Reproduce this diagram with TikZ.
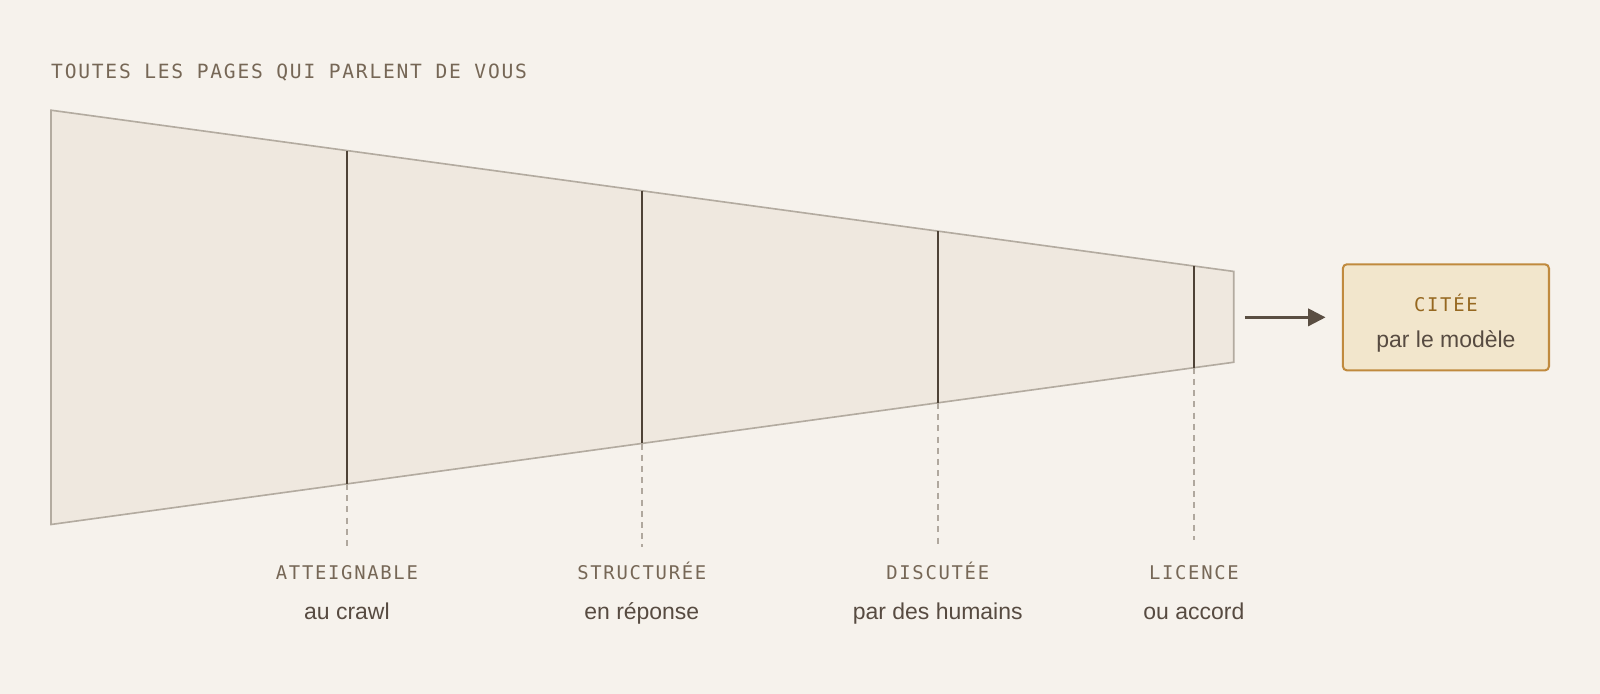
\documentclass[tikz,border=0pt]{standalone}
\usepackage{fontspec}
\setmainfont{Liberation Sans}
\newfontfamily\monof[LetterSpace=9]{DejaVu Sans Mono}
\usetikzlibrary{arrows.meta}
\definecolor{bgc}{HTML}{F6F2EC}
\definecolor{trapfill}{HTML}{EFE8DF}
\definecolor{trapedge}{HTML}{B3ABA0}
\definecolor{stagec}{HTML}{4E4236}
\definecolor{dashc}{HTML}{B0A89E}
\definecolor{monoc}{HTML}{766756}
\definecolor{bodyc}{HTML}{574B41}
\definecolor{boxfill}{HTML}{F2E6CC}
\definecolor{boxedge}{HTML}{C08A3E}
\definecolor{citec}{HTML}{966820}
\definecolor{arrowc}{HTML}{5A4E42}
\tikzset{
  monolabel/.style={inner sep=0pt, anchor=base, text=monoc, font=\monof\fontsize{18.5}{20}\selectfont},
  sublabel/.style={inner sep=0pt, anchor=base, text=bodyc, font=\fontsize{22.5}{26}\selectfont},
  stageline/.style={draw=stagec, line width=2pt},
  guide/.style={draw=dashc, line width=1.6pt, dash pattern=on 6pt off 5pt},
  citebox/.style={draw=boxedge, fill=boxfill, line width=2pt, rounded corners=4pt, minimum width=202pt, minimum height=104pt, inner sep=0pt},
}
\begin{document}
\begin{tikzpicture}[x=1pt,y=-1pt]
\fill[bgc] (0,0) rectangle (1568,680);
\useasboundingbox (0,0) rectangle (1568,680);
% title
\node[monolabel, anchor=base west, font=\monof\fontsize{19.2}{21}\selectfont] (title) at (50,77) {TOUTES LES PAGES QUI PARLENT DE VOUS};
% funnel
\coordinate (tl) at (50,108);
\coordinate (bl) at (50,514);
\coordinate (tr) at (1209,266);
\coordinate (br) at (1209,355);
\draw[fill=trapfill, draw=trapedge, line width=1.6pt] (tl) -- (tr) -- (br) -- (bl) -- cycle;
% stages
\foreach \n/\x/\yt/\yb/\ye in {a/340/147.5/474.2/536, b/629/186.9/434.6/536, c/919/226.5/394.8/537, d/1170/260.7/360.3/529}{
  \coordinate (\n top) at (\x,\yt);
  \coordinate (\n bot) at (\x,\yb);
  \coordinate (\n end) at (\x,\ye);
}
\foreach \n in {a,b,c,d}{
  \draw[guide] (\n bot) -- (\n end);
  \draw[stageline] (\n top) -- (\n bot);
}
% labels
\node[monolabel] (la) at (340,568) {ATTEIGNABLE};
\node[sublabel] (sa) at (340,607) {au crawl};
\node[monolabel] (lb) at (629,568) {STRUCTURÉE};
\node[sublabel] (sb) at (629,607) {en réponse};
\node[monolabel] (lc) at (919,568) {DISCUTÉE};
\node[sublabel] (sc) at (919,607) {par des humains};
\node[monolabel] (ld) at (1170,568) {LICENCE};
\node[sublabel] (sd) at (1170,607) {ou accord};
% output box
\node[citebox] (box) at (1417,311) {};
\node[monolabel, text=citec] (cite) at (1417,305.5) {CITÉE};
\node[sublabel] (citesub) at (1417,341) {par le modèle};
% arrow
\coordinate (astart) at (1220,311);
\draw[draw=arrowc, line width=2.4pt, -{Triangle[length=17pt,width=17pt]}] (astart) -- (box.west -| 1299,0);
\end{tikzpicture}
\end{document}
